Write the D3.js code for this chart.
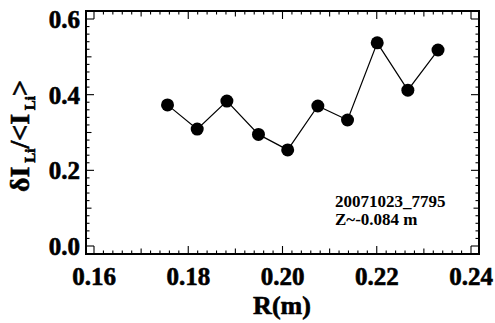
<!DOCTYPE html>
<html>
<head>
<meta charset="utf-8">
<script src="https://cdn.jsdelivr.net/npm/d3@7"></script>
<style>
  body { margin: 0; background: #fff; }
  svg { display: block; }
  text { font-family: "Liberation Serif", "Times New Roman", serif; font-weight: bold; fill: #000; }
  .heavy { stroke: #000; stroke-width: 0.6; }
</style>
</head>
<body>
<svg id="chart" width="495" height="323"></svg>
<script>
// R positions (m) and relative fluctuation values
const radius = [0.1756, 0.1819, 0.1882, 0.1949, 0.2011, 0.2075, 0.2138, 0.2201, 0.2266, 0.2330];
const fluct = [0.373, 0.309, 0.383, 0.295, 0.254, 0.370, 0.333, 0.537, 0.412, 0.518];

const xTickLabels = [0.16, 0.18, 0.20, 0.22, 0.24];
const yTickLabels = [0.0, 0.2, 0.4, 0.6];
const noteLines = ['20071023_7795', 'Z~-0.084 m'];

const svg = d3.select('#chart');

const pad = 8;
const x = d3.scaleLinear().domain([0.16, 0.24]).range([94, 471]);
const y = d3.scaleLinear().domain([0, 0.6]).range([246, 19]);

const frameL = x.range()[0] - pad;
const frameR = x.range()[1] + pad;
const frameT = y.range()[1] - pad;
const frameB = y.range()[0] + pad;

const isMult = (v, step) => Math.abs(v / step - Math.round(v / step)) < 1e-6;

function tickLen(v, major, mid) {
  if (isMult(v, major)) return 8;
  if (isMult(v, mid)) return 5.5;
  return 3.5;
}

const ticks = svg.append('g')
    .attr('stroke', '#000')
    .attr('stroke-width', 1.1);

// x ticks, bottom and top
const xMinor = x.ticks(40);
ticks.append('g').selectAll('line')
  .data(xMinor)
  .join('line')
    .attr('x1', d => x(d)).attr('x2', d => x(d))
    .attr('y1', frameB).attr('y2', d => frameB - tickLen(d, 0.02, 0.01));
ticks.append('g').selectAll('line')
  .data(xMinor)
  .join('line')
    .attr('x1', d => x(d)).attr('x2', d => x(d))
    .attr('y1', frameT).attr('y2', d => frameT + tickLen(d, 0.02, 0.01));

// y ticks, left and right
const yMinor = y.ticks(30);
ticks.append('g').selectAll('line')
  .data(yMinor)
  .join('line')
    .attr('y1', d => y(d)).attr('y2', d => y(d))
    .attr('x1', frameL).attr('x2', d => frameL + tickLen(d, 0.2, 0.1));
ticks.append('g').selectAll('line')
  .data(yMinor)
  .join('line')
    .attr('y1', d => y(d)).attr('y2', d => y(d))
    .attr('x1', frameR).attr('x2', d => frameR - tickLen(d, 0.2, 0.1));

// frame
svg.append('rect')
    .attr('x', frameL)
    .attr('y', frameT)
    .attr('width', frameR - frameL)
    .attr('height', frameB - frameT)
    .attr('fill', 'none')
    .attr('stroke', '#000')
    .attr('stroke-width', 2);

// tick labels
svg.append('g')
    .attr('class', 'heavy')
    .attr('font-size', 25)
    .attr('text-anchor', 'middle')
  .selectAll('text')
  .data(xTickLabels)
  .join('text')
    .attr('x', d => x(d))
    .attr('y', 285)
    .text(d3.format('.2f'));

svg.append('g')
    .attr('class', 'heavy')
    .attr('font-size', 25)
    .attr('text-anchor', 'end')
  .selectAll('text')
  .data(yTickLabels)
  .join('text')
    .attr('x', 80)
    .attr('y', d => y(d) + 9)
    .text(d3.format('.1f'));

// axis titles
svg.append('text')
    .attr('class', 'heavy')
    .attr('x', 282)
    .attr('y', 314)
    .attr('font-size', 26)
    .attr('text-anchor', 'middle')
    .text('R(m)');

const yTitle = svg.append('text')
    .attr('class', 'heavy')
    .attr('transform', 'translate(29,136) rotate(-90)')
    .attr('font-size', 28)
    .attr('text-anchor', 'middle');

[['δI', 0], [' Li', 1], ['/<I', -1], [' Li', 1], ['>', -1]].forEach(([t, s]) => {
  yTitle.append('tspan')
      .attr('font-size', s === 1 ? 15 : 28)
      .attr('dy', s === 1 ? 6 : (s === -1 ? -6 : 0))
      .text(t);
});

// data
const pts = radius.map((r, i) => [r, fluct[i]]);

svg.append('path')
    .datum(pts)
    .attr('fill', 'none')
    .attr('stroke', '#000')
    .attr('stroke-width', 1.2)
    .attr('d', d3.line().x(d => x(d[0])).y(d => y(d[1])));

svg.append('g')
  .selectAll('circle')
  .data(pts)
  .join('circle')
    .attr('cx', d => x(d[0]))
    .attr('cy', d => y(d[1]))
    .attr('r', 6.5)
    .attr('fill', '#000');

// shot annotation
svg.append('g')
    .attr('font-size', 17)
  .selectAll('text')
  .data(noteLines)
  .join('text')
    .attr('x', 335)
    .attr('y', (d, i) => 207 + i * 18)
    .text(d => d);
</script>
</body>
</html>
